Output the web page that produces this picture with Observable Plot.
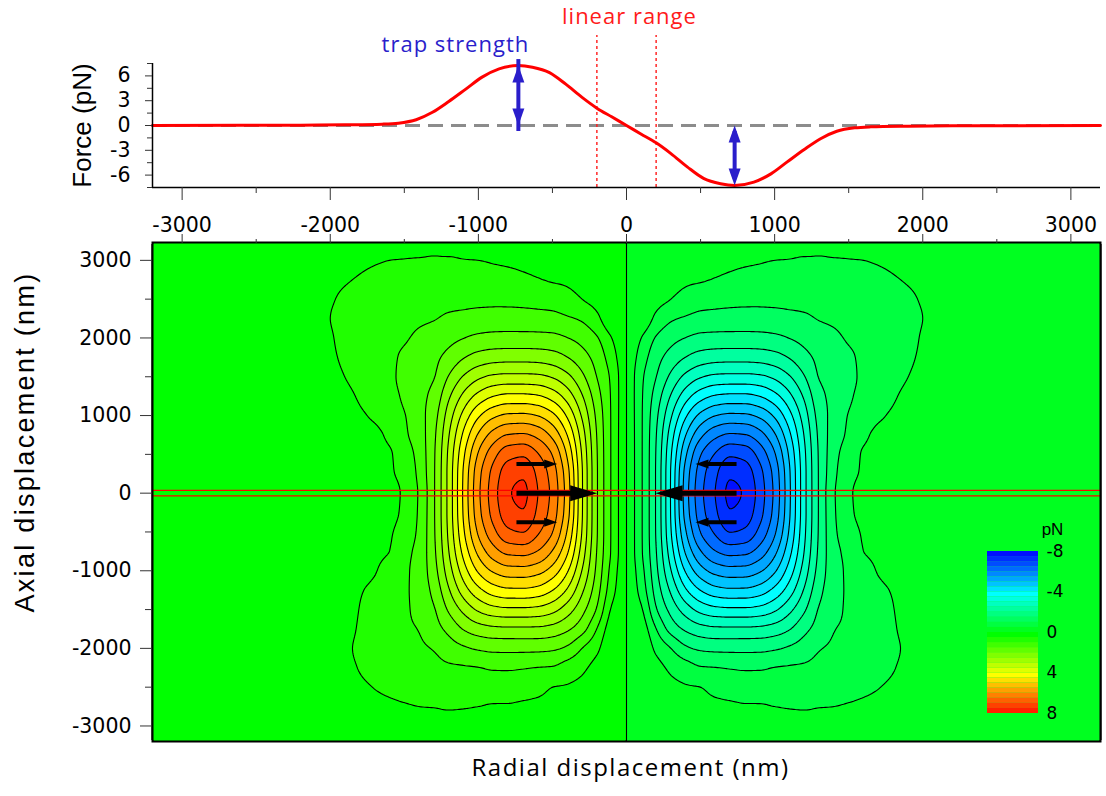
<!DOCTYPE html>
<html><head><meta charset="utf-8">
<script src="https://cdn.jsdelivr.net/npm/d3@7"></script>
<script src="https://cdn.jsdelivr.net/npm/@observablehq/plot@0.6"></script>
<style>
body{margin:0;background:#fff;}
#wrap{position:relative;width:1106px;height:796px;overflow:hidden;}
#wrap > svg{position:absolute;overflow:visible;}
</style></head><body><div id="wrap"></div>
<script>
// ---- top panel: force along the radial axis (pN) ----
const forceX = [-3200,-2600,-2200,-1900,-1650,-1540,-1420,-1310,-1200,-1085,-975,-860,-730,-635,-520,-410,-300,-200,-100,0,100,200,300,410,520,635,730,860,975,1085,1200,1310,1420,1540,1650,1900,2200,2600,3200];
const forceY = [0,0.02,0.04,0.08,0.16,0.28,0.7,1.6,2.9,4.4,5.85,6.85,7.25,7.05,6.4,5.0,3.4,2.1,1.05,0,-1.05,-2.1,-3.4,-5.0,-6.4,-7.05,-7.25,-6.85,-5.85,-4.4,-2.9,-1.6,-0.7,-0.28,-0.16,-0.08,-0.04,-0.02,0];
const linearRange = [-200, 200];
const trapX = [-730, 730];
const trapF = [7.25, -7.25];
const xTicks = [-3000,-2000,-1000,0,1000,2000,3000];
const xMinor = [-2500,-1500,-500,500,1500,2500];
const fTicks = [-6,-3,0,3,6];
const fMinor = [-7.5,-4.5,-1.5,1.5,4.5,7.5];
const zTicks = [-3000,-2000,-1000,0,1000,2000,3000];
const zMinor = [-2500,-1500,-500,500,1500,2500];
const cbTicks = [-8,-4,0,4,8];
const colorStops = [-8,-4,0,4,8];
const colorRange = ["#0010ff","#00ffff","#00ff00","#ffff00","#ff0000"];
const levels = d3.range(-8, 8.001, 0.5);
const arrowY = [0, 375, -375, 0, 375, -375];
const arrowTail = [-743,-743,-743,743,743,743];
const arrowTip = [-198,-468,-468,196,466,466];
const arrowBig = [true,false,false,true,false,false];
const beamLines = [-35, 35];

// ---- bottom panel: restoring-force magnitude |F| (pN), x >= 0 half ----
// (force is directed toward x = 0: negative for x > 0, positive for x < 0)
const mapX = [0,100,200,300,400,500,600,700,800,900,1000,1100,1200,1300,1400,1500,1600,1700,1850,2000,2200,2500,3200];
const mapY = [3250,3000,2750,2500,2250,2000,1750,1500,1250,1000,750,500,250,0,-250,-500,-750,-1000,-1250,-1500,-1750,-2000,-2250,-2500,-2750,-3000,-3250];
const mapForce = [
 [0,0.06,0.06,0.14,0.20,0.23,0.26,0.29,0.32,0.35,0.35,0.38,0.38,0.41,0.38,0.38,0.38,0.35,0.32,0.26,0.17,0.06,0.06],
 [0,0.06,0.06,0.23,0.32,0.35,0.38,0.41,0.44,0.47,0.50,0.51,0.53,0.53,0.52,0.51,0.50,0.47,0.41,0.35,0.23,0.06,0.06],
 [0,0.06,0.14,0.35,0.44,0.47,0.52,0.58,0.64,0.67,0.69,0.70,0.70,0.70,0.67,0.64,0.62,0.58,0.50,0.41,0.26,0.06,0.06],
 [0,0.06,0.32,0.50,0.64,0.77,0.82,0.86,0.88,0.89,0.89,0.88,0.87,0.85,0.81,0.77,0.73,0.67,0.59,0.47,0.29,0.06,0.06],
 [0,0.11,0.62,0.93,1.06,1.17,1.19,1.20,1.21,1.20,1.17,1.12,1.07,0.98,0.93,0.88,0.82,0.76,0.63,0.50,0.29,0.06,0.06],
 [0,0.50,1.04,1.33,1.51,1.63,1.66,1.67,1.67,1.66,1.61,1.49,1.35,1.20,1.08,0.96,0.89,0.80,0.66,0.47,0.26,0.06,0.06],
 [0,0.73,1.30,1.70,2.01,2.22,2.30,2.32,2.32,2.29,2.19,1.97,1.66,1.38,1.20,1.06,0.93,0.82,0.63,0.44,0.23,0.06,0.06],
 [0,0.89,1.49,2.11,2.63,2.96,3.11,3.14,3.14,3.09,2.90,2.54,2.03,1.48,1.30,1.10,0.93,0.80,0.57,0.38,0.17,0.06,0.06],
 [0,0.93,1.71,2.54,3.28,3.79,4.05,4.12,4.12,3.99,3.66,3.12,2.42,1.66,1.34,1.06,0.89,0.74,0.47,0.29,0.11,0.06,0.06],
 [0,0.94,1.88,2.93,3.93,4.63,4.99,5.11,5.09,4.89,4.42,3.66,2.74,1.81,1.32,0.98,0.83,0.58,0.38,0.23,0.11,0.06,0.06],
 [0,0.94,1.98,3.25,4.49,5.37,5.86,6.07,6.02,5.69,5.06,4.10,2.97,1.90,1.27,0.91,0.59,0.41,0.32,0.23,0.11,0.06,0.06],
 [0,0.94,2.03,3.45,4.93,5.97,6.54,6.92,6.82,6.31,5.55,4.41,3.11,1.94,1.20,0.72,0.47,0.41,0.32,0.23,0.14,0.06,0.06],
 [0,0.94,2.05,3.54,5.19,6.26,6.90,7.42,7.27,6.66,5.82,4.56,3.16,1.95,1.14,0.59,0.47,0.41,0.32,0.26,0.14,0.06,0.06],
 [0,0.94,2.05,3.55,5.26,6.35,7.01,7.60,7.44,6.76,5.89,4.59,3.16,1.95,1.06,0.54,0.44,0.41,0.32,0.26,0.14,0.06,0.06],
 [0,0.94,2.05,3.54,5.20,6.27,6.91,7.46,7.29,6.67,5.82,4.56,3.16,1.95,1.08,0.56,0.44,0.41,0.32,0.26,0.14,0.06,0.06],
 [0,0.94,2.04,3.47,4.96,6.01,6.58,7.01,6.89,6.35,5.58,4.43,3.11,1.94,1.12,0.66,0.47,0.41,0.32,0.23,0.14,0.06,0.06],
 [0,0.93,1.98,3.28,4.58,5.47,5.98,6.19,6.14,5.79,5.14,4.16,2.99,1.90,1.18,0.83,0.50,0.41,0.32,0.23,0.11,0.06,0.06],
 [0,0.82,1.88,2.98,4.06,4.79,5.17,5.30,5.28,5.06,4.57,3.76,2.77,1.81,1.21,0.91,0.72,0.47,0.32,0.23,0.11,0.06,0.06],
 [0,0.69,1.71,2.59,3.44,4.01,4.32,4.41,4.40,4.25,3.86,3.25,2.45,1.65,1.19,0.93,0.78,0.60,0.41,0.26,0.08,0.06,0.06],
 [0,0.44,1.45,2.16,2.74,3.16,3.35,3.40,3.40,3.32,3.08,2.63,2.07,1.46,1.16,0.92,0.80,0.67,0.44,0.29,0.11,0.06,0.06],
 [0,0.23,0.99,1.69,2.08,2.31,2.40,2.41,2.41,2.38,2.27,2.03,1.64,1.30,1.02,0.91,0.79,0.67,0.47,0.32,0.14,0.06,0.06],
 [0,0.08,0.61,1.00,1.41,1.58,1.63,1.64,1.64,1.63,1.56,1.43,1.26,1.03,0.93,0.84,0.75,0.64,0.50,0.35,0.14,0.06,0.06],
 [0,0.06,0.32,0.60,0.78,0.96,0.99,1.03,1.06,1.05,0.99,0.96,0.93,0.87,0.82,0.75,0.67,0.60,0.47,0.32,0.17,0.06,0.06],
 [0,0.06,0.14,0.38,0.47,0.50,0.63,0.69,0.72,0.74,0.75,0.75,0.73,0.71,0.67,0.63,0.57,0.51,0.41,0.29,0.14,0.06,0.06],
 [0,0.06,0.06,0.26,0.35,0.38,0.41,0.44,0.47,0.47,0.50,0.52,0.53,0.51,0.50,0.47,0.44,0.41,0.35,0.26,0.11,0.06,0.06],
 [0,0.06,0.06,0.17,0.23,0.26,0.29,0.32,0.35,0.35,0.35,0.38,0.38,0.38,0.38,0.35,0.35,0.32,0.26,0.20,0.06,0.06,0.06],
 [0,0.06,0.06,0.08,0.11,0.14,0.17,0.20,0.20,0.23,0.23,0.26,0.26,0.26,0.26,0.23,0.23,0.23,0.17,0.11,0.06,0.06,0.06]
];

// full signed grid (mirror to x < 0), rows in ascending y
const gx = [...mapX.slice(1).map(x => -x).reverse(), ...mapX];
const gy = mapY.slice().reverse();
const grid = mapForce.slice().reverse().map(row => [...row.slice(1).reverse(), ...row.map(v => -v)]);

// monotone cubic (Fritsch–Carlson) sampling of the grid for the contour mark
function slopes(xs, vs) {
  const n = xs.length, d = [], m = new Array(n);
  for (let k = 0; k < n - 1; k++) d.push((vs[k + 1] - vs[k]) / (xs[k + 1] - xs[k]));
  m[0] = d[0]; m[n - 1] = d[n - 2];
  for (let i = 1; i < n - 1; i++) {
    if (d[i - 1] * d[i] <= 0) m[i] = 0;
    else {
      const h0 = xs[i] - xs[i - 1], h1 = xs[i + 1] - xs[i];
      const w1 = 2 * h1 + h0, w2 = h1 + 2 * h0;
      m[i] = (w1 + w2) / (w1 / d[i - 1] + w2 / d[i]);
    }
  }
  return m;
}
function herm(x0, x1, v0, v1, m0, m1, x) {
  const h = x1 - x0, t = (x - x0) / h, t2 = t * t, t3 = t2 * t;
  return (2 * t3 - 3 * t2 + 1) * v0 + (t3 - 2 * t2 + t) * h * m0 + (-2 * t3 + 3 * t2) * v1 + (t3 - t2) * h * m1;
}
function locate(xs, x) {
  let lo = 0, hi = xs.length - 2;
  if (x <= xs[0]) return 0;
  if (x >= xs[xs.length - 1]) return hi;
  while (lo < hi) { const mid = (lo + hi + 1) >> 1; if (xs[mid] <= x) lo = mid; else hi = mid - 1; }
  return lo;
}
const rowSlopes = grid.map(r => slopes(gx, r));
function rowAt(i, x, j) {
  return herm(gx[j], gx[j + 1], grid[i][j], grid[i][j + 1], rowSlopes[i][j], rowSlopes[i][j + 1], x);
}
function field(x, y) {
  const j = locate(gx, x), i = locate(gy, y);
  const i0 = Math.max(0, i - 1), i3 = Math.min(gy.length - 1, i + 2);
  const ys = [], vs = [];
  for (let k = i0; k <= i3; k++) { ys.push(gy[k]); vs.push(rowAt(k, x, j)); }
  const ms = slopes(ys, vs), a = i - i0;
  return herm(ys[a], ys[a + 1], vs[a], vs[a + 1], ms[a], ms[a + 1], y);
}

const BLUE = "#2a1ecb";
const tickFont = "DejaVu Sans";
const colorOpts = {type: "linear", domain: colorStops, range: colorRange, interpolate: "rgb"};
const headSym = (len, hw) => ({draw(ctx) { ctx.moveTo(0, 0); ctx.lineTo(hw, len); ctx.lineTo(-hw, len); ctx.closePath(); }});
const fmt = d => String(d);

// ---- top panel ----
const heads = trapX.flatMap((x, i) => [
  {x, y: 0, rot: trapF[i] > 0 ? 180 : 0},
  {x, y: trapF[i], rot: trapF[i] > 0 ? 0 : 180}
]);
const topPlot = Plot.plot({
  width: 1106, height: 240,
  marginLeft: 152, marginRight: 6, marginTop: 63, marginBottom: 53,
  x: {domain: [-3200, 3200]},
  y: {domain: [-7.5, 7.5]},
  style: {fontFamily: tickFont, fontSize: "20.5px", color: "#000", background: "transparent", overflow: "visible"},
  marks: [
    Plot.ruleY([0], {stroke: "#8c8c8c", strokeWidth: 3, strokeDasharray: "15,8"}),
    Plot.ruleX(linearRange, {y1: -7.5, y2: 10.9, stroke: "#ff1a1a", strokeWidth: 1.4, strokeDasharray: "3,3"}),
    Plot.line(forceY, {x: (d, i) => forceX[i], y: d => d, curve: "monotone-x", stroke: "#ff0000", strokeWidth: 3}),
    Plot.ruleX(trapX, {y1: 0, y2: (d, i) => trapF[i], stroke: BLUE, strokeWidth: 4, insetTop: 6, insetBottom: 6}),
    Plot.dot(heads, {x: "x", y: "y", rotate: "rot", symbol: headSym(17, 6), fill: BLUE, stroke: "none", r: 1}),
    Plot.ruleX([-3200], {stroke: "#000", strokeWidth: 1.5}),
    Plot.ruleY([-7.5], {stroke: "#000", strokeWidth: 1.5}),
    Plot.axisX({ticks: xTicks, tickSize: 13, tickPadding: 17, tickFormat: fmt, label: null, stroke: "#333"}),
    Plot.axisX({ticks: xMinor, tickSize: 6, tickFormat: () => "", label: null, stroke: "#333"}),
    Plot.axisY({ticks: fTicks, tickSize: 7, tickPadding: 15, tickFormat: fmt, label: null, stroke: "#333"}),
    Plot.axisY({ticks: fMinor, tickSize: 5, tickFormat: () => "", label: null, stroke: "#333"}),
    Plot.text(["Force (pN)"], {frameAnchor: "left", dx: -70, rotate: -90, fontSize: 26, fontFamily: "Liberation Sans", textAnchor: "middle"}),
    Plot.text(["trap strength"], {x: -1155, y: 9.8, fill: BLUE, fontSize: 22, fontFamily: "Open Sans", textAnchor: "middle"}),
    Plot.text(["linear range"], {x: 20, y: 13.1, fill: "#ff1a1a", fontSize: 22, fontFamily: "Open Sans", textAnchor: "middle"})
  ]
});
topPlot.style.left = "0px"; topPlot.style.top = "0px";

// ---- bottom panel ----
const idx = arrowY.map((_, i) => i);
const sgn = i => Math.sign(arrowTip[i] - arrowTail[i]);
const bottomPlot = Plot.plot({
  width: 1106, height: 566,
  marginLeft: 152, marginRight: 6, marginTop: 12, marginBottom: 55,
  x: {domain: [-3200, 3200]},
  y: {domain: [-3200, 3230]},
  color: colorOpts,
  style: {fontFamily: tickFont, fontSize: "20.5px", color: "#000", background: "transparent", overflow: "visible"},
  marks: [
    Plot.contour({fill: field, x1: -3200, x2: 3200, y1: -3200, y2: 3230, thresholds: levels, stroke: "#000", strokeWidth: 1.1, pixelSize: 2}),
    Plot.ruleY(beamLines, {stroke: "#ff0000", strokeWidth: 1.3}),
    Plot.link(idx, {x1: i => arrowTail[i], x2: i => arrowTip[i] - sgn(i) * (arrowBig[i] ? 120 : 55), y1: i => arrowY[i], y2: i => arrowY[i], stroke: "#000", strokeWidth: i => arrowBig[i] ? 5 : 4}),
    Plot.dot(idx.filter(i => arrowBig[i]), {x: i => arrowTip[i], y: i => arrowY[i], rotate: i => sgn(i) > 0 ? 90 : -90, symbol: headSym(27, 8), fill: "#000", stroke: "none", r: 1}),
    Plot.dot(idx.filter(i => !arrowBig[i]), {x: i => arrowTip[i], y: i => arrowY[i], rotate: i => sgn(i) > 0 ? 90 : -90, symbol: headSym(13, 4.5), fill: "#000", stroke: "none", r: 1}),
    Plot.frame({stroke: "#000", strokeWidth: 2}),
    Plot.axisX({anchor: "top", ticks: xTicks, tickSize: 9, tickFormat: () => "", label: null, stroke: "#333"}),
    Plot.axisX({anchor: "top", ticks: xMinor, tickSize: 4, tickFormat: () => "", label: null, stroke: "#333"}),
    Plot.axisY({ticks: zTicks, tickSize: 12, tickPadding: 9, tickFormat: fmt, label: null, stroke: "#333"}),
    Plot.axisY({ticks: zMinor, tickSize: 7, tickFormat: () => "", label: null, stroke: "#333"}),
    Plot.text(["Axial displacement (nm)"], {frameAnchor: "left", dx: -127, dy: -50, rotate: -90, fontSize: 27, fontFamily: "Liberation Sans", textAnchor: "middle"}),
    Plot.text(["Radial displacement (nm)"], {frameAnchor: "bottom", dx: 4, dy: 34, fontSize: 24, fontFamily: "Open Sans", textAnchor: "middle"})
  ]
});
bottomPlot.style.left = "0px"; bottomPlot.style.top = "230px";

// ---- colour bar ----
const bands = levels.slice(0, -1);
const cbPlot = Plot.plot({
  width: 120, height: 220,
  marginLeft: 27, marginRight: 42, marginTop: 51, marginBottom: 7,
  x: {domain: [0, 1], axis: null},
  y: {domain: [-8, 8], reverse: true},
  color: colorOpts,
  style: {fontFamily: tickFont, fontSize: "17px", color: "#000", background: "transparent", overflow: "visible"},
  marks: [
    Plot.rect(bands, {x1: 0, x2: 1, y1: d => d, y2: d => d + 0.5, fill: d => d}),
    Plot.axisY({anchor: "right", ticks: cbTicks, tickSize: 0, tickPadding: 8, tickFormat: fmt, label: null}),
    Plot.text(["pN"], {frameAnchor: "top-left", dx: 65, dy: -29, fontSize: 17, fontFamily: "Liberation Sans", textAnchor: "middle"})
  ]
});
cbPlot.style.left = "960px"; cbPlot.style.top = "500px";

const wrap = document.getElementById("wrap");
wrap.append(topPlot, bottomPlot, cbPlot);
for (const t of document.querySelectorAll("text")) {
  const s = t.textContent;
  if (s === "trap strength" || s === "linear range") t.setAttribute("letter-spacing", "1");
  if (s === "Axial displacement (nm)") t.setAttribute("letter-spacing", "2.3");
  if (s === "Radial displacement (nm)") t.setAttribute("letter-spacing", "1.5");
}
</script></body></html>
